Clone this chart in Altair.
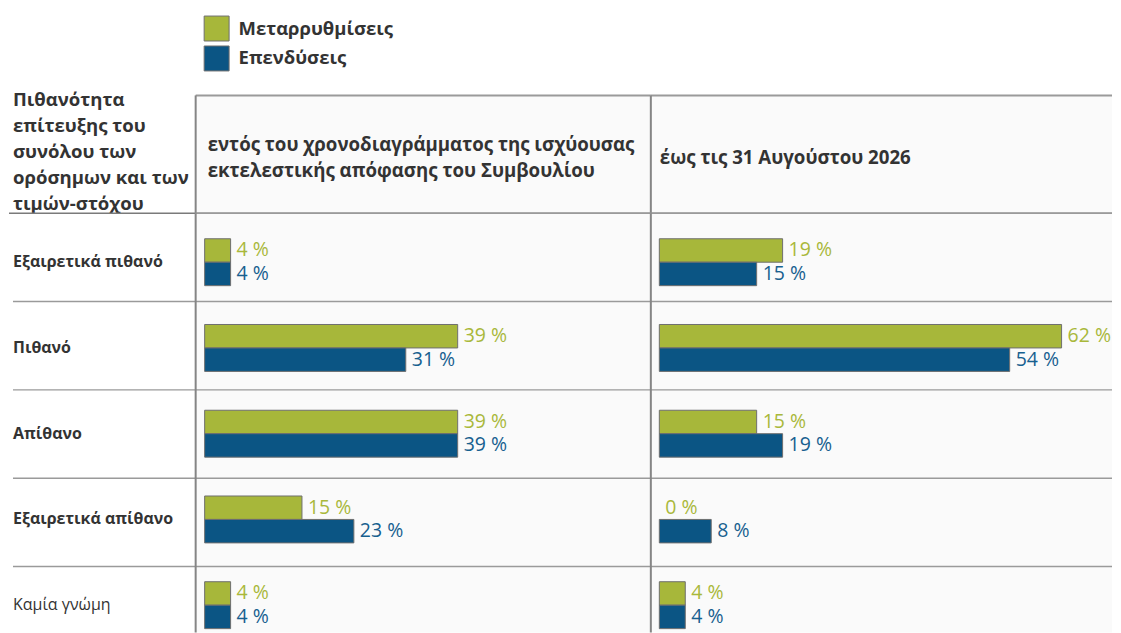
import altair as alt
import pandas as pd

# ---- data ----
rows = ["Εξαιρετικά πιθανό", "Πιθανό", "Απίθανο", "Εξαιρετικά απίθανο", "Καμία γνώμη"]
bold_rows = ["Εξαιρετικά πιθανό", "Πιθανό", "Απίθανο", "Εξαιρετικά απίθανο"]
series = ["Μεταρρυθμίσεις", "Επενδύσεις"]
colors = ["#a7b73a", "#0b5584"]
reform_within = [4, 39, 39, 15, 4]
invest_within = [4, 31, 39, 23, 4]
reform_aug = [19, 62, 15, 0, 4]
invest_aug = [15, 54, 19, 8, 4]
header_left = ["Πιθανότητα", "επίτευξης του", "συνόλου των", "ορόσημων και των", "τιμών-στόχου"]
title_within = ["εντός του χρονοδιαγράμματος της ισχύουσας", "εκτελεστικής απόφασης του Συμβουλίου"]
title_aug = ["έως τις 31 Αυγούστου 2026"]

FONT = "Open Sans"
TXT = "#333333"
GRID = "#9a9a9a"
VLINE = "#858585"
PANEL_BG = "#fafafa"

W0, W1, W2 = 187, 456, 462
HT, HB = 205, 420
BOX_TOP = 87
ROW = 88.5
STEP = 85.9   # spacing of bar groups / row labels
C0 = 49.1     # centre of first bar group
PX = 6.5      # pixels per percent


def long_df(reform, invest):
    recs = []
    for r, a, b in zip(rows, reform, invest):
        recs.append({"row": r, "series": series[0], "value": a})
        recs.append({"row": r, "series": series[1], "value": b})
    return pd.DataFrame(recs)


one = pd.DataFrame({"k": [0]})
rows_df = pd.DataFrame({"row": rows})

rule_scale = alt.Scale(domain=rows, range=[0, 5 * ROW], paddingInner=0, paddingOuter=0)
yscale = alt.Scale(domain=rows, range=[C0 - STEP / 2, C0 + 4.5 * STEP], paddingInner=0, paddingOuter=0)
yoff_scale = alt.Scale(domain=series, paddingInner=0, paddingOuter=0.828, align=0.5)
color_scale = alt.Scale(domain=series, range=colors)

# ---- top row: legend + headers ----
top_left = alt.layer(
    alt.Chart(one).mark_text(align="left", baseline="middle", font=FONT, fontWeight="bold",
                             fontSize=18.6, lineHeight=26, color=TXT).encode(
        x=alt.value(4), y=alt.value(92), text=alt.value(header_left)),
    alt.Chart(one).mark_rule(color="#7a7a7a", strokeWidth=1.5).encode(
        x=alt.value(0), x2=alt.value(W0), y=alt.value(HT)),
).properties(width=W0, height=HT)


def top_panel(w, title, tx, ty):
    return alt.layer(
        alt.Chart(one).mark_rect(fill=PANEL_BG).encode(
            x=alt.value(0), x2=alt.value(w), y=alt.value(BOX_TOP), y2=alt.value(HT)),
        alt.Chart(one).mark_rule(color=GRID, strokeWidth=2).encode(
            x=alt.value(0), x2=alt.value(w), y=alt.value(BOX_TOP)),
        alt.Chart(one).mark_rule(color="#7a7a7a", strokeWidth=1.5).encode(
            x=alt.value(0), x2=alt.value(w), y=alt.value(HT)),
        alt.Chart(one).mark_rule(color=VLINE, strokeWidth=2).encode(
            x=alt.value(0), y=alt.value(BOX_TOP), y2=alt.value(HT)),
        alt.Chart(one).mark_text(align="left", baseline="middle", font=FONT, fontWeight="bold",
                                 fontSize=18.7, lineHeight=26, color=TXT).encode(
            x=alt.value(tx), y=alt.value(ty), text=alt.value(title)),
    ).properties(width=w, height=HT)


# ---- body ----
body_left = alt.layer(
    alt.Chart(rows_df).mark_rule(color=GRID, strokeWidth=1.5).encode(
        y=alt.Y("row:N", scale=rule_scale, axis=None, bandPosition=0),
        x=alt.value(4), x2=alt.value(W0)).transform_filter(alt.datum.row != rows[0]),
    alt.Chart(rows_df).mark_text(align="left", baseline="middle", font=FONT, fontWeight="bold",
                                 fontSize=16, color=TXT).encode(
        y=alt.Y("row:N", scale=yscale, axis=None), x=alt.value(4), text="row:N"
    ).transform_filter(alt.FieldOneOfPredicate(field="row", oneOf=bold_rows)),
    alt.Chart(rows_df).mark_text(align="left", baseline="middle", font=FONT, fontWeight="normal",
                                 fontSize=16, color=TXT).encode(
        y=alt.Y("row:N", scale=yscale, axis=None), x=alt.value(4), text="row:N"
    ).transform_filter(~alt.FieldOneOfPredicate(field="row", oneOf=bold_rows)),
).resolve_scale(y="independent").properties(width=W0, height=HB)


def body_panel(w, reform, invest, x0):
    df = long_df(reform, invest)
    xs = alt.Scale(domain=[0, 100], range=[x0, x0 + 100 * PX])
    y = alt.Y("row:N", scale=yscale, axis=None)
    yo = alt.YOffset("series:N", scale=yoff_scale)
    bars = alt.Chart(df).mark_bar(stroke="#6e6e6e").encode(
        x=alt.X("value:Q", scale=xs, axis=None),
        y=y, yOffset=yo,
        color=alt.Color("series:N", scale=color_scale, legend=alt.Legend(title=None)),
        strokeWidth=alt.condition("datum.value > 0", alt.value(1), alt.value(0)),
    )
    labels = alt.Chart(df).transform_calculate(lab="datum.value + ' %'").mark_text(
        align="left", baseline="middle", font=FONT, fontSize=19.5, dx=6, dy=0).encode(
        x=alt.X("value:Q", scale=xs, axis=None),
        y=y, yOffset=yo, text="lab:N",
        color=alt.condition(alt.datum.series == series[0], alt.value("#a9b83a"), alt.value("#17608f")),
    )
    return alt.layer(
        alt.Chart(one).mark_rect(fill=PANEL_BG).encode(
            x=alt.value(0), x2=alt.value(w), y=alt.value(0), y2=alt.value(HB)),
        alt.Chart(rows_df).mark_rule(color=GRID, strokeWidth=1.5).encode(
            y=alt.Y("row:N", scale=rule_scale, axis=None, bandPosition=0),
            x=alt.value(0), x2=alt.value(w)),
        alt.Chart(one).mark_rule(color=VLINE, strokeWidth=2).encode(
            x=alt.value(0), y=alt.value(0), y2=alt.value(HB)),
        bars, labels,
    ).resolve_scale(y="independent").properties(width=w, height=HB)


chart = alt.concat(
    top_left, top_panel(W1, title_within, 12, 137), top_panel(W2, title_aug, 9, 150),
    body_left, body_panel(W1, reform_within, invest_within, 9),
    body_panel(W2, reform_aug, invest_aug, 8.5),
    columns=3, spacing=0, bounds="flush",
).properties(
    padding=0
).configure_view(stroke=None).configure_legend(
    orient="none", legendX=195, legendY=7, symbolType="square", symbolSize=625,
    symbolStrokeColor="#6e6e6e", symbolStrokeWidth=1, rowPadding=0,
    labelFont=FONT, labelFontSize=18.5, labelFontWeight="bold", labelColor=TXT,
    labelOffset=9, padding=0,
)

chart.save("out.html", embed_options={"renderer": "svg", "actions": False})
